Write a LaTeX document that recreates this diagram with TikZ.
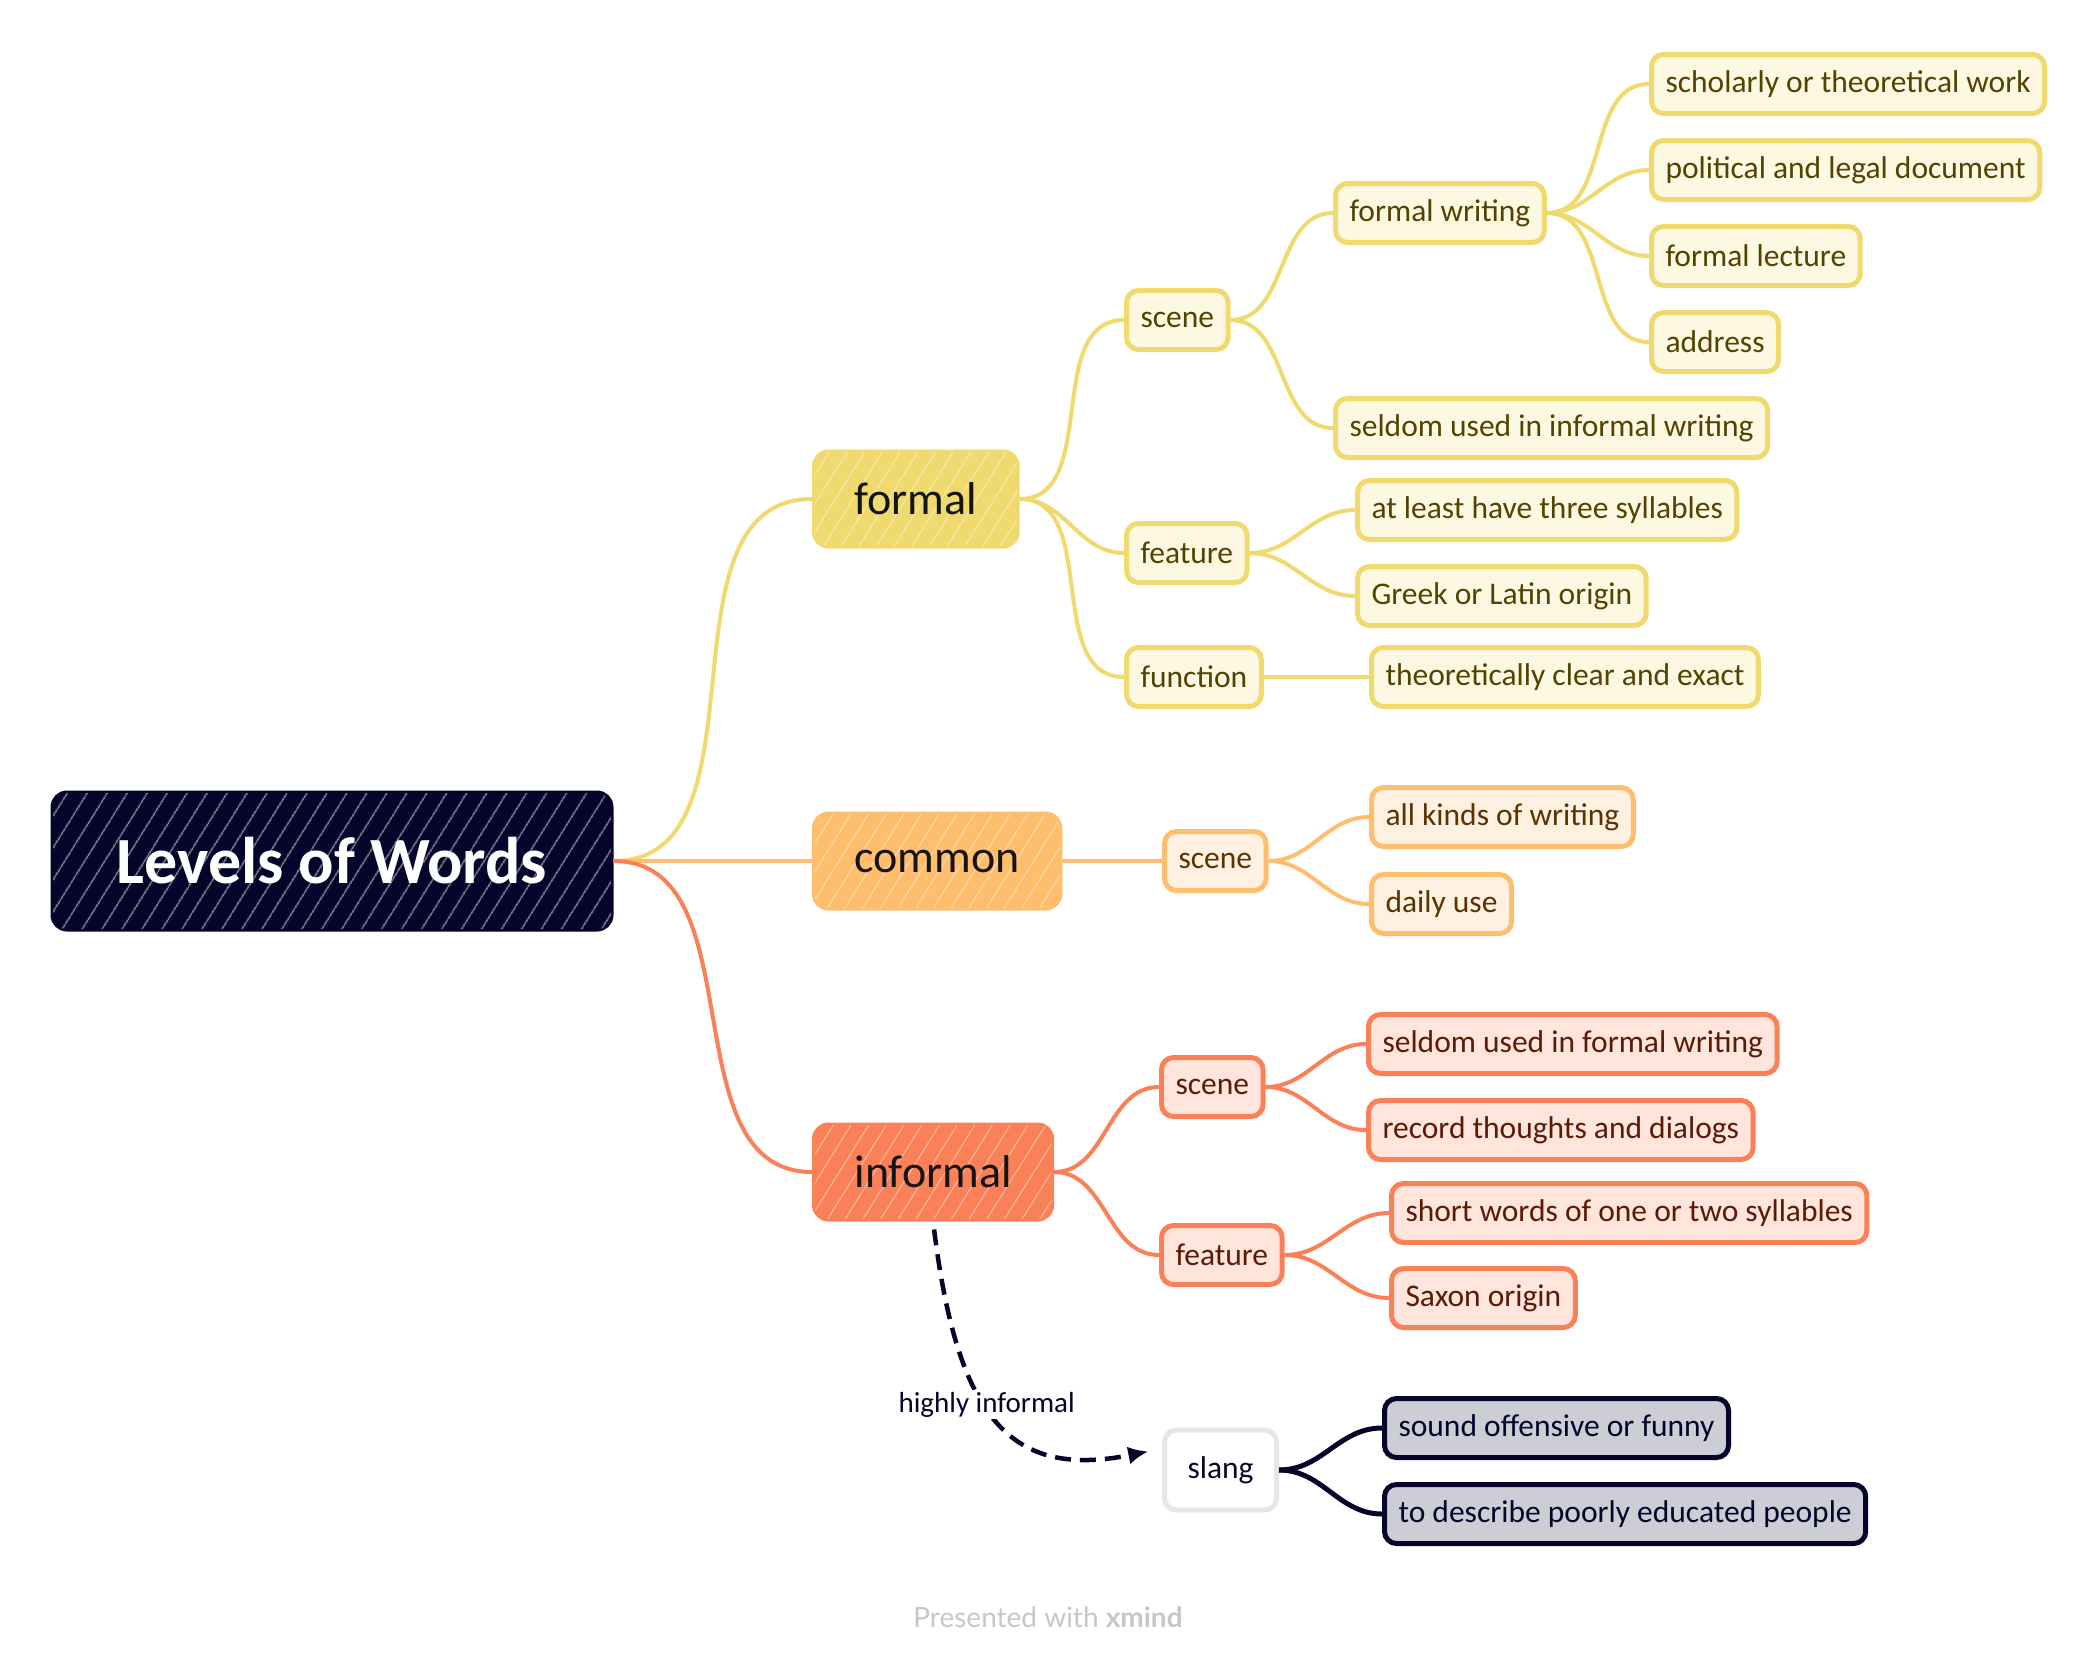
\documentclass[tikz,border=0pt]{standalone}
\usepackage{fontspec}
\setmainfont{Carlito}
\newfontfamily\creditfont{Lato}
\usepackage{tikz}
\usetikzlibrary{arrows.meta, positioning, patterns.meta}

\definecolor{rootnavy}{HTML}{05052B}
\definecolor{fyel}{HTML}{F0D96E}
\definecolor{fyelbg}{HTML}{FDF8E2}
\definecolor{fyeltx}{HTML}{544200}
\definecolor{corg}{HTML}{FFBE6E}
\definecolor{corgbg}{HTML}{FFF1E2}
\definecolor{corgtx}{HTML}{5C3300}
\definecolor{icor}{HTML}{FA8157}
\definecolor{icorbg}{HTML}{FFE5DC}
\definecolor{icortx}{HTML}{5C1A05}
\definecolor{slgray}{HTML}{E6E6EA}
\definecolor{slfill}{HTML}{CDCDD6}

\begin{document}
\begin{tikzpicture}[x=1pt, y=-1pt, >=Latex,
    root/.style={draw=rootnavy, fill=rootnavy, line width=5pt, rounded corners=14pt,
        text=white, font=\fontsize{66}{70}\selectfont\bfseries,
        minimum width=558pt, minimum height=136pt,
        postaction={pattern={Lines[angle=58,distance=17pt,line width=1.3pt]},
            pattern color=white!60!rootnavy}},
    topic/.style={line width=5pt, rounded corners=14pt, anchor=west,
        font=\fontsize{46}{50}\selectfont, text=black!92,
        inner xsep=40pt, minimum height=94pt},
    formaltopic/.style={topic, draw=fyel, fill=fyel,
        postaction={pattern={Lines[angle=58,distance=15pt,line width=1pt]},
            pattern color=white!45!fyel}},
    commontopic/.style={topic, draw=corg, fill=corg,
        postaction={pattern={Lines[angle=58,distance=15pt,line width=1pt]},
            pattern color=white!45!corg}},
    informaltopic/.style={topic, draw=icor, fill=icor,
        postaction={pattern={Lines[angle=58,distance=15pt,line width=1pt]},
            pattern color=white!45!icor}},
    sub/.style={line width=5pt, rounded corners=12pt, anchor=west,
        font=\fontsize{31.5}{35}\selectfont, inner xsep=14pt, minimum height=59pt},
    subformal/.style={sub, draw=fyel, fill=fyelbg, text=fyeltx},
    subcommon/.style={sub, draw=corg, fill=corgbg, text=corgtx},
    subinformal/.style={sub, draw=icor, fill=icorbg, text=icortx},
    subslang/.style={sub, draw=rootnavy, fill=slfill, text=rootnavy},
    slangbox/.style={sub, draw=slgray, fill=white, text=rootnavy,
        inner xsep=23pt, minimum height=80pt},
    linkformal/.style={draw=fyel, line width=4pt},
    linkcommon/.style={draw=corg, line width=4pt},
    linkinformal/.style={draw=icor, line width=4pt},
    linkslang/.style={draw=rootnavy, line width=5pt},
    linkdash/.style={draw=rootnavy, line width=4.5pt, dash pattern=on 16pt off 9pt,
        -{Latex[length=20pt,width=18pt]}, shorten <=8pt, shorten >=14pt},
    footer/.style={font=\creditfont\fontsize{28}{30}\selectfont, text=black!22}]

    \useasboundingbox (0,0) rectangle (2094,1666);

    % === ROOT ===
    \node[root] (lvl) at (332,861) {Levels of Words};

    % === MAIN TOPICS ===
    \node[formaltopic] (formal) at (812,499) {formal};
    \node[commontopic] (common) at (812,861) {common};
    \node[informaltopic] (informal) at (812,1172) {informal};

    \draw[linkformal] (lvl.east) to[out=0,in=180] (formal.west);
    \draw[linkcommon] (lvl.east) to[out=0,in=180] (common.west);
    \draw[linkinformal] (lvl.east) to[out=0,in=180] (informal.west);

    % === FORMAL ===
    \node[subformal] (fscene) at (1124,320) {scene};
    \node[subformal] (ffeature) at (1124,553) {feature};
    \node[subformal] (ffunction) at (1124,677) {function};
    \node[subformal] (fwriting) at (1333,213) {formal writing};
    \node[subformal] (fseldom) at (1333,428) {seldom used in informal writing};
    \node[subformal] (fthree) at (1355,510) {at least have three syllables};
    \node[subformal] (fgreek) at (1355,596) {Greek or Latin origin};
    \node[subformal] (fexact) at (1369,677) {theoretically clear and exact};

    % formal writing -> 4 kinds
    \foreach \name/\yy/\txt in {fscholar/84/scholarly or theoretical work,
            fpolitic/170/political and legal document,
            flecture/256/formal lecture,
            faddress/342/address} {
        \node[subformal] (\name) at (1649,\yy) {\txt};
        \draw[linkformal] (fwriting.east) to[out=0,in=180] (\name.west);
    }

    \foreach \a/\b in {formal/fscene, formal/ffeature, formal/ffunction,
            fscene/fwriting, fscene/fseldom, ffeature/fthree, ffeature/fgreek,
            ffunction/fexact}
        \draw[linkformal] (\a.east) to[out=0,in=180] (\b.west);

    % === COMMON ===
    \node[subcommon] (cscene) at (1162,861) {scene};
    \node[subcommon] (callkinds) at (1369,817) {all kinds of writing};
    \node[subcommon] (cdaily) at (1369,904) {daily use};

    \foreach \a/\b in {common/cscene, cscene/callkinds, cscene/cdaily}
        \draw[linkcommon] (\a.east) to[out=0,in=180] (\b.west);

    % === INFORMAL ===
    \node[subinformal] (iscene) at (1159,1087) {scene};
    \node[subinformal] (ifeature) at (1159,1255) {feature};
    \node[subinformal] (iseldom) at (1366,1044) {seldom used in formal writing};
    \node[subinformal] (irecord) at (1366,1130) {record thoughts and dialogs};
    \node[subinformal] (ishort) at (1389,1213) {short words of one or two syllables};
    \node[subinformal] (isaxon) at (1389,1298) {Saxon origin};

    \foreach \a/\b in {informal/iscene, informal/ifeature, iscene/iseldom,
            iscene/irecord, ifeature/ishort, ifeature/isaxon}
        \draw[linkinformal] (\a.east) to[out=0,in=180] (\b.west);

    % === SLANG (floating) ===
    \node[slangbox] (slang) at (1162,1470) {slang};
    \node[subslang] (soffensive) at (1382,1428) {sound offensive or funny};
    \node[subslang] (spoorly) at (1382,1514) {to describe poorly educated people};

    \draw[linkslang] (slang.east) to[out=0,in=180] (soffensive.west);
    \draw[linkslang] (slang.east) to[out=0,in=180] (spoorly.west);

    % relationship informal -> slang
    \draw[linkdash] (informal.south) .. controls +(25,200) and +(-150,30) .. (slang.160)
        node[pos=0.43, fill=white, text=rootnavy, inner sep=2pt,
            font=\fontsize{29}{31}\selectfont] (hilabel) {highly informal};

    % === FOOTER ===
    \node[footer] (credit) at (1048,1617) {Presented with \textbf{xmind}};

\end{tikzpicture}
\end{document}
